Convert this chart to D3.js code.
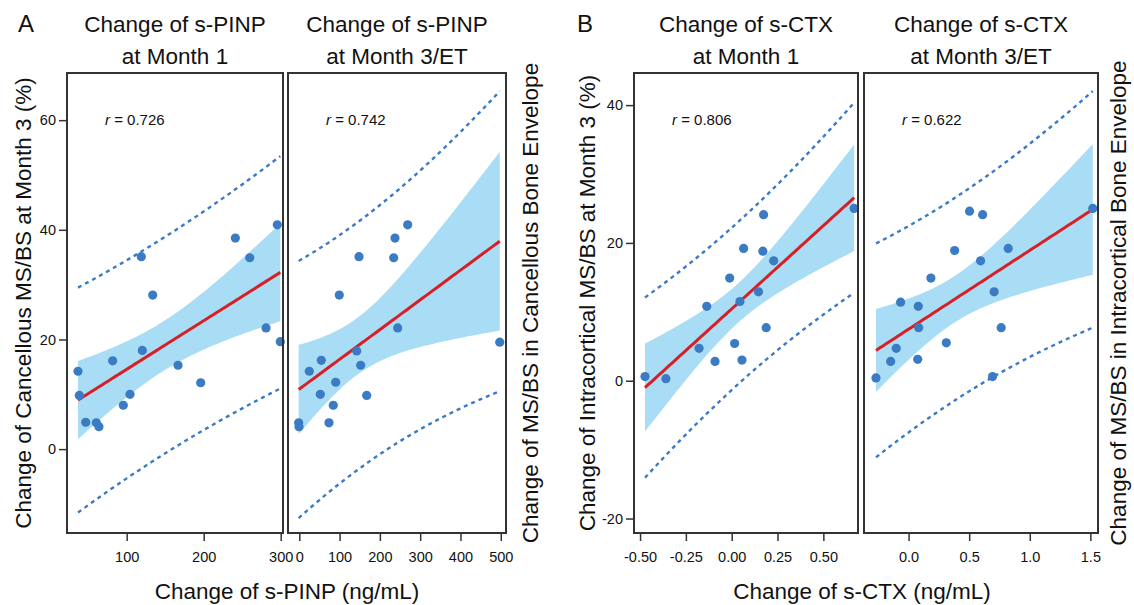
<!DOCTYPE html>
<html>
<head>
<meta charset="utf-8">
<script src="https://cdn.jsdelivr.net/npm/d3@7"></script>
<style>
  body { margin: 0; background: #fff; }
  svg { font-family: "Liberation Sans", Arial, sans-serif; }
  .tick text { font-family: "Liberation Sans", Arial, sans-serif; font-size: 14.5px; fill: #111; }
  .tick line { stroke: #333; stroke-width: 1.5; }
</style>
</head>
<body>
<script>
// values (x = change of marker, y = change of MS/BS)
var pinpM1 = [36.8, 38.5, 46.8, 60.6, 64, 81.8, 95.6, 104.3, 119, 120.3, 133.8, 166.7, 196.1, 241.1, 259.8, 281, 295.6, 299.5];
var cancM1 = [14.2, 9.8, 4.9, 4.8, 4.1, 16.1, 8.0, 10.0, 35.1, 18.0, 28.1, 15.3, 12.1, 38.5, 34.9, 22.1, 40.9, 19.6];

var pinpM3 = [-1.5, -0.7, 24.9, 52.2, 54.7, 73.7, 84.4, 90.4, 99.3, 142.5, 148.2, 152.4, 167.3, 234.3, 237.5, 244.2, 269, 497.5];
var cancM3 = [4.8, 4.1, 14.2, 10.0, 16.2, 4.8, 8.0, 12.2, 28.1, 17.9, 35.1, 15.3, 9.8, 34.9, 38.5, 22.1, 40.9, 19.5];

var ctxM1 = [-0.473, -0.359, -0.178, -0.136, -0.091, -0.011, 0.016, 0.045, 0.056, 0.065, 0.146, 0.170, 0.174, 0.188, 0.229, 0.668];
var intraM1 = [0.6, 0.3, 4.7, 10.8, 2.8, 14.9, 5.4, 11.5, 3.0, 19.2, 12.9, 18.8, 24.1, 7.7, 17.4, 25.0];

var ctxM3 = [-0.269, -0.148, -0.102, -0.066, 0.075, 0.080, 0.083, 0.184, 0.311, 0.380, 0.503, 0.594, 0.611, 0.693, 0.706, 0.764, 0.822, 1.520];
var intraM3 = [0.4, 2.8, 4.7, 11.4, 3.1, 10.8, 7.7, 14.9, 5.5, 18.9, 24.6, 17.4, 24.1, 0.6, 12.9, 7.7, 19.2, 25.0];

var rLabels = ['0.726', '0.742', '0.806', '0.622'];
var panelTitles = [
  ['Change of s-PINP', 'at Month 1'],
  ['Change of s-PINP', 'at Month 3/ET'],
  ['Change of s-CTX', 'at Month 1'],
  ['Change of s-CTX', 'at Month 3/ET']
];
var xTicksA1 = [100, 200, 300];
var xTicksA2 = [0, 100, 200, 300, 400, 500];
var xTicksB1 = [-0.5, -0.25, 0, 0.25, 0.5];
var xTicksB2 = [0, 0.5, 1, 1.5];
var yTicksA = [0, 20, 40, 60];
var yTicksB = [-20, 0, 20, 40];

var W = 1134, H = 605;
var plotTop = 73, plotBottom = 533;
var dotColor = '#3b7bc4', bandColor = '#a9ddf6', lineColor = '#d71f26', frameColor = '#333';
var bigFont = '22.5px';

// plain hyphen for negatives, like the reference
function fmt(spec) {
  var f = d3.format(spec);
  return function(v) { return f(v).replace('\u2212', '-'); };
}

var svg = d3.select('body').append('svg')
  .attr('width', W)
  .attr('height', H);

var yA = d3.scaleLinear().domain([-15.3, 68.6]).range([plotBottom, plotTop]);
var yB = d3.scaleLinear().domain([-22.1, 44.66]).range([plotBottom, plotTop]);

var panels = [
  { xs: pinpM1, ys: cancM1, x: d3.scaleLinear().domain([22.5, 303]).range([67, 283]), y: yA, ticks: xTicksA1, fmt: fmt('d') },
  { xs: pinpM3, ys: cancM3, x: d3.scaleLinear().domain([-28, 513]).range([288, 506]), y: yA, ticks: xTicksA2, fmt: fmt('d') },
  { xs: ctxM1, ys: intraM1, x: d3.scaleLinear().domain([-0.533, 0.689]).range([634, 858]), y: yB, ticks: xTicksB1, fmt: fmt('.2f') },
  { xs: ctxM3, ys: intraM3, x: d3.scaleLinear().domain([-0.368, 1.563]).range([864, 1098]), y: yB, ticks: xTicksB2, fmt: fmt('.1f') }
];

// two-sided 95% t quantiles
var tq = { 14: 2.145, 16: 2.120 };

function fit(xs, ys) {
  var n = xs.length, mx = d3.mean(xs), my = d3.mean(ys);
  var sxx = d3.sum(xs, function(v) { return (v - mx) * (v - mx); });
  var sxy = d3.sum(xs, function(v, i) { return (v - mx) * (ys[i] - my); });
  var b = sxy / sxx, a = my - b * mx;
  var sse = d3.sum(xs, function(v, i) { var e = ys[i] - (a + b * v); return e * e; });
  var s = Math.sqrt(sse / (n - 2));
  var t = tq[n - 2] || 2.12;
  var lo = d3.min(xs), hi = d3.max(xs);
  return d3.range(0, 61).map(function(k) {
    var x = lo + (hi - lo) * k / 60;
    var yh = a + b * x;
    var h = (x - mx) * (x - mx) / sxx;
    var ci = t * s * Math.sqrt(1 / n + h);
    var pi = t * s * Math.sqrt(1 + 1 / n + h);
    return { x: x, y: yh, cl: yh - ci, cu: yh + ci, pl: yh - pi, pu: yh + pi };
  });
}

panels.forEach(function(p, i) {
  var g = svg.append('g');
  var grid = fit(p.xs, p.ys);
  var x0 = p.x.range()[0], x1 = p.x.range()[1];

  g.append('path')
    .datum(grid)
    .attr('fill', bandColor)
    .attr('d', d3.area()
      .x(function(d) { return p.x(d.x); })
      .y0(function(d) { return p.y(d.cl); })
      .y1(function(d) { return p.y(d.cu); }));

  ['pl', 'pu'].forEach(function(k) {
    g.append('path')
      .datum(grid)
      .attr('fill', 'none')
      .attr('stroke', dotColor)
      .attr('stroke-width', 2.4)
      .attr('stroke-dasharray', '4,4')
      .attr('d', d3.line()
        .x(function(d) { return p.x(d.x); })
        .y(function(d) { return p.y(d[k]); }));
  });

  g.append('path')
    .datum(grid)
    .attr('fill', 'none')
    .attr('stroke', lineColor)
    .attr('stroke-width', 3)
    .attr('d', d3.line()
      .x(function(d) { return p.x(d.x); })
      .y(function(d) { return p.y(d.y); }));

  g.selectAll('.dot')
    .data(p.xs.map(function(v, j) { return [v, p.ys[j]]; }))
    .enter().append('circle')
    .attr('class', 'dot')
    .attr('r', 4.6)
    .attr('fill', dotColor)
    .attr('cx', function(d) { return p.x(d[0]); })
    .attr('cy', function(d) { return p.y(d[1]); });

  g.append('rect')
    .attr('x', x0)
    .attr('y', plotTop)
    .attr('width', x1 - x0)
    .attr('height', plotBottom - plotTop)
    .attr('fill', 'none')
    .attr('stroke', frameColor)
    .attr('stroke-width', 2);

  var ax = g.append('g')
    .attr('transform', 'translate(0,' + plotBottom + ')')
    .call(d3.axisBottom(p.x).tickValues(p.ticks).tickFormat(p.fmt).tickSize(8).tickPadding(11).tickSizeOuter(0));
  ax.select('.domain').remove();

  var rt = g.append('text')
    .attr('x', x0 + 38)
    .attr('y', 125)
    .style('font-size', '15px')
    .attr('fill', '#111');
  rt.append('tspan').style('font-style', 'italic').text('r');
  rt.append('tspan').text(' = ' + rLabels[i]);

  var cx = (x0 + x1) / 2;
  panelTitles[i].forEach(function(line, j) {
    g.append('text')
      .attr('x', cx)
      .attr('y', 32 + j * 32)
      .attr('text-anchor', 'middle')
      .style('font-size', bigFont)
      .attr('fill', '#111')
      .text(line);
  });
});

// y axes on the left panels
[[yA, yTicksA, 67], [yB, yTicksB, 634]].forEach(function(a) {
  var g = svg.append('g')
    .attr('transform', 'translate(' + a[2] + ',0)')
    .call(d3.axisLeft(a[0]).tickValues(a[1]).tickFormat(fmt('d')).tickSize(8).tickPadding(3).tickSizeOuter(0));
  g.select('.domain').remove();
});

function vtext(x, y, s) {
  svg.append('text')
    .attr('transform', 'translate(' + x + ',' + y + ') rotate(-90)')
    .attr('text-anchor', 'middle')
    .attr('dy', '0.35em')
    .style('font-size', bigFont)
    .attr('fill', '#111')
    .text(s);
}
vtext(23, 303, 'Change of Cancellous MS/BS at Month 3 (%)');
vtext(530, 303, 'Change of MS/BS in Cancellous Bone Envelope');
vtext(587, 303, 'Change of Intracortical MS/BS at Month 3 (%)');
vtext(1118, 303, 'Change of MS/BS in Intracortical Bone Envelope');

svg.append('text').attr('x', 287).attr('y', 599).attr('text-anchor', 'middle')
  .style('font-size', bigFont).attr('fill', '#111').text('Change of s-PINP (ng/mL)');
svg.append('text').attr('x', 862).attr('y', 599).attr('text-anchor', 'middle')
  .style('font-size', bigFont).attr('fill', '#111').text('Change of s-CTX (ng/mL)');

svg.append('text').attr('x', 18).attr('y', 32).style('font-size', '24px').attr('fill', '#111').text('A');
svg.append('text').attr('x', 577).attr('y', 32).style('font-size', '24px').attr('fill', '#111').text('B');
</script>
</body>
</html>
